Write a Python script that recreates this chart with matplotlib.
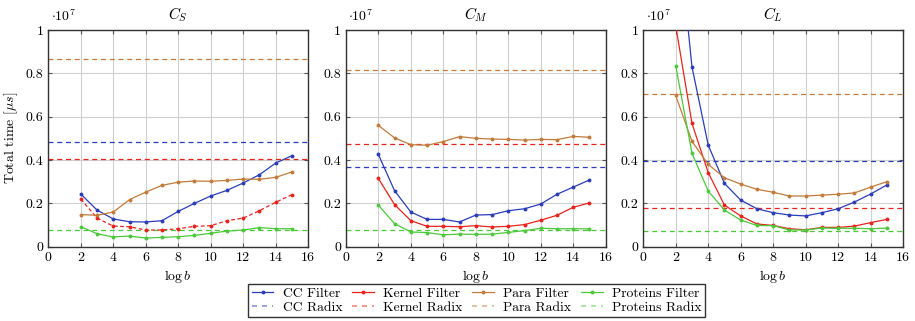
import matplotlib
matplotlib.use("Agg")
import matplotlib.pyplot as plt
from matplotlib.lines import Line2D

plt.rcParams["font.family"] = "serif"
plt.rcParams["font.serif"] = ["cmr10", "DejaVu Serif"]
plt.rcParams["mathtext.fontset"] = "cm"
plt.rcParams["axes.unicode_minus"] = False
plt.rcParams["font.size"] = 10

# log b values
logb = list(range(2, 16))

# total time in units of 1e7 microseconds
# --- C_S ---
cs_cc = [0.243, 0.169, 0.128, 0.115, 0.114, 0.120, 0.163, 0.200, 0.234, 0.260, 0.294, 0.332, 0.386, 0.420]
cs_kernel = [0.220, 0.132, 0.095, 0.092, 0.077, 0.077, 0.083, 0.094, 0.097, 0.120, 0.132, 0.166, 0.205, 0.240]
cs_para = [0.148, 0.145, 0.160, 0.217, 0.252, 0.283, 0.298, 0.303, 0.302, 0.306, 0.312, 0.311, 0.320, 0.345]
cs_prot = [0.092, 0.060, 0.045, 0.049, 0.040, 0.043, 0.046, 0.052, 0.062, 0.072, 0.077, 0.088, 0.083, 0.083]
cs_radix = [0.482, 0.406, 0.865, 0.077]  # cc, kernel, para, proteins

# --- C_M ---
cm_cc = [0.426, 0.258, 0.160, 0.126, 0.126, 0.114, 0.146, 0.148, 0.166, 0.175, 0.197, 0.242, 0.275, 0.308]
cm_kernel = [0.315, 0.194, 0.120, 0.094, 0.094, 0.092, 0.097, 0.091, 0.094, 0.102, 0.122, 0.145, 0.182, 0.202]
cm_para = [0.560, 0.502, 0.471, 0.468, 0.485, 0.508, 0.500, 0.497, 0.495, 0.492, 0.495, 0.494, 0.509, 0.505]
cm_prot = [0.192, 0.106, 0.068, 0.065, 0.055, 0.058, 0.057, 0.058, 0.066, 0.074, 0.085, 0.083, 0.083, 0.082]
cm_radix = [0.366, 0.472, 0.815, 0.077]

# --- C_L ---
cl_cc = [1.570, 0.830, 0.469, 0.292, 0.215, 0.175, 0.157, 0.146, 0.142, 0.157, 0.175, 0.206, 0.243, 0.285]
cl_kernel = [1.020, 0.569, 0.342, 0.192, 0.142, 0.105, 0.098, 0.083, 0.078, 0.089, 0.089, 0.095, 0.111, 0.126]
cl_para = [0.698, 0.486, 0.380, 0.318, 0.289, 0.265, 0.251, 0.234, 0.234, 0.238, 0.242, 0.248, 0.275, 0.300]
cl_prot = [0.835, 0.431, 0.257, 0.169, 0.123, 0.098, 0.097, 0.077, 0.077, 0.086, 0.085, 0.085, 0.083, 0.086]
cl_radix = [0.397, 0.177, 0.703, 0.072]

titles = ["$C_S$", "$C_M$", "$C_L$"]
names = ["CC", "Kernel", "Para", "Proteins"]
colors = ["#2b3db8", "#e8231d", "#c27b3a", "#4cc83a"]

panels = [
    ([cs_cc, cs_kernel, cs_para, cs_prot], cs_radix),
    ([cm_cc, cm_kernel, cm_para, cm_prot], cm_radix),
    ([cl_cc, cl_kernel, cl_para, cl_prot], cl_radix),
]

fig = plt.figure(figsize=(9.15, 3.21), dpi=100)
lefts = [0.0528, 0.378, 0.703]
axes = [fig.add_axes([l, 0.2315, 0.284, 0.675]) for l in lefts]

for i, ax in enumerate(axes):
    filters, radix = panels[i]
    for j in range(4):
        ls = "-"
        # in C_S the kernel filter curve is drawn dashed in the original
        if i == 0 and j == 1:
            ls = (0, (3, 2))
        ax.plot(logb, filters[j], color=colors[j], lw=0.9, ls=ls,
                marker="o", ms=1.8, zorder=3)
        ax.axhline(radix[j], color=colors[j], lw=0.9, ls=(0, (4, 3)), zorder=2)
    ax.set_xlim(0, 16)
    ax.set_ylim(0, 1)
    ax.set_xticks(range(0, 17, 2))
    ax.set_yticks([0, 0.2, 0.4, 0.6, 0.8, 1])
    ax.set_yticklabels(["0", "0.2", "0.4", "0.6", "0.8", "1"])
    ax.grid(True, color="#d0d0d0", lw=0.8, zorder=0)
    ax.set_axisbelow(True)
    ax.tick_params(direction="in", top=True, right=True, length=3, color="#555555")
    for s in ax.spines.values():
        s.set_linewidth(1.0)
        s.set_color("#333333")
    ax.set_title(titles[i], fontsize=11, pad=8)
    ax.set_xlabel(r"$\log b$", fontsize=10, labelpad=3)
    ax.text(0.01, 1.03, r"$\cdot 10^7$", transform=ax.transAxes,
            ha="left", va="bottom", fontsize=10)

axes[0].set_ylabel(r"Total time [$\mu s$]", fontsize=10)

handles = []
labels = []
for j in range(4):
    handles.append(Line2D([], [], color=colors[j], lw=0.9, marker="o", ms=1.8))
    labels.append(names[j] + " Filter")
    handles.append(Line2D([], [], color=colors[j], lw=1.2, ls=(0, (3, 3)), alpha=0.55))
    labels.append(names[j] + " Radix")

fig.legend(handles, labels, loc="center", bbox_to_anchor=(0.521, 0.064), ncol=4,
           frameon=True, fancybox=False, edgecolor="black", fontsize=9.8,
           handlelength=1.6, columnspacing=0.7, handletextpad=0.7,
           borderpad=0.25, labelspacing=0.1)

fig.savefig("out.png", dpi=100)
